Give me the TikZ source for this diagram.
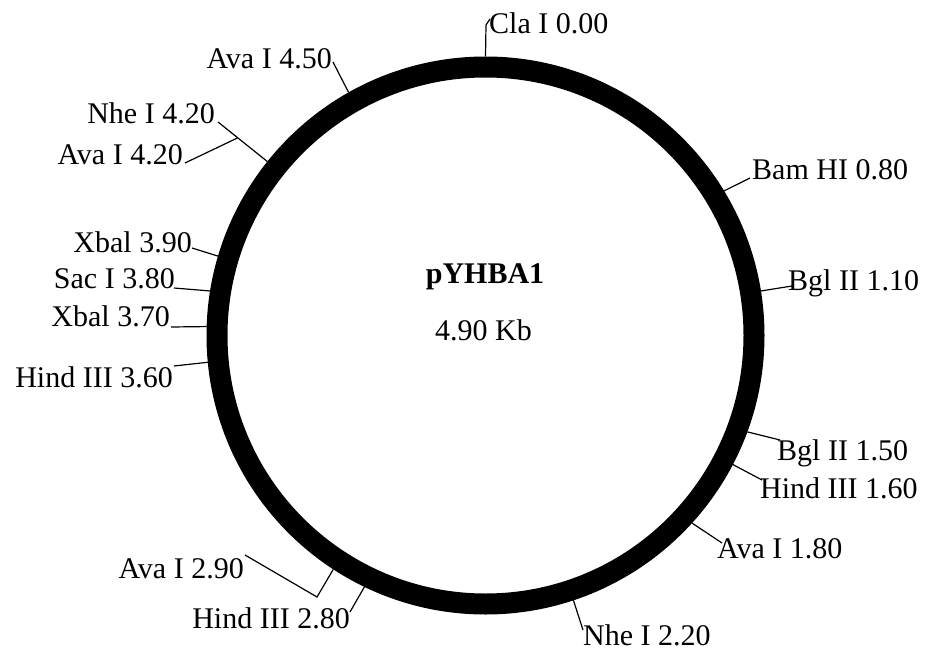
\documentclass[tikz,border=0pt]{standalone}
\usepackage{fontspec}
\setmainfont{Liberation Serif}
\usetikzlibrary{calc}
\begin{document}
\begin{tikzpicture}[x=1pt,y=-1pt,
  lbl/.style={inner sep=0pt,font=\fontsize{30}{36}\selectfont},
  leader/.style={line width=1.2pt,line join=miter}]
\useasboundingbox (0,0) rectangle (930,653);
% ring
\draw[line width=21pt] (485.5,335.5) circle[radius=268.5pt];
% site points on the outer edge of the ring
\foreach \n/\p in {cla/0.00,bam/0.80,bglA/1.10,bglB/1.50,hindA/1.60,avaA/1.80,nheA/2.20,hindB/2.80,avaB/2.90,hindC/3.60,xbaA/3.70,sac/3.80,xbaB/3.90,nheB/4.20,avaC/4.50}
  \coordinate (s-\n) at ({485.5+279*sin(\p*360/4.9)},{335.5-279*cos(\p*360/4.9)});
% centre labels
\node[lbl,font=\fontsize{30}{36}\selectfont\bfseries,anchor=base] (name) at (485,283) {pYHBA1};
\node[lbl,anchor=base] (size) at (483.5,340) {4.90 Kb};
% site labels
\node[lbl,anchor=base west] (l-cla) at (489,33) {Cla I 0.00};
\node[lbl,anchor=base west] (l-bam) at (752,179) {Bam HI 0.80};
\node[lbl,anchor=base west] (l-bglA) at (788,290) {Bgl II 1.10};
\node[lbl,anchor=base west] (l-bglB) at (777,460) {Bgl II 1.50};
\node[lbl,anchor=base west] (l-hindA) at (760,498) {Hind III 1.60};
\node[lbl,anchor=base west] (l-avaA) at (717,558) {Ava I 1.80};
\node[lbl,anchor=base west] (l-nheA) at (583,645) {Nhe I 2.20};
\node[lbl,anchor=base east] (l-hindB) at (350,628) {Hind III 2.80};
\node[lbl,anchor=base east] (l-avaB) at (244,578) {Ava I 2.90};
\node[lbl,anchor=base east] (l-hindC) at (173,387) {Hind III 3.60};
\node[lbl,anchor=base east] (l-xbaA) at (170,326) {Xbal 3.70};
\node[lbl,anchor=base east] (l-sac) at (175,288) {Sac I 3.80};
\node[lbl,anchor=base east] (l-xbaB) at (192,252) {Xbal 3.90};
\node[lbl,anchor=base east] (l-nheB) at (215,123) {Nhe I 4.20};
\node[lbl,anchor=base east] (l-avaD) at (183,164) {Ava I 4.20};
\node[lbl,anchor=base east] (l-avaC) at (332,68) {Ava I 4.50};
% leader end points
\coordinate (e-cla) at (490,19);
\coordinate (k-cla) at (486,25);
\coordinate (e-bam) at (750,178);
\coordinate (e-bglA) at (792,286);
\coordinate (e-bglB) at (780,440);
\coordinate (e-hindA) at (762,480);
\coordinate (e-avaA) at (722,543);
\coordinate (e-nheA) at (583,630);
\coordinate (e-hindB) at (350,612);
\coordinate (k-avaB) at (317,597);
\coordinate (e-avaB) at (245,555);
\coordinate (e-hindC) at (174,366);
\coordinate (e-xbaA) at (171,327);
\coordinate (e-sac) at (174,288);
\coordinate (e-xbaB) at (192,248);
\coordinate (e-nheB) at (218,122);
\coordinate (e-avaD) at (185,163);
\coordinate (e-avaC) at (333,62);
% leaders
\draw[leader] (s-cla) -- (k-cla) -- (e-cla);
\draw[leader] (s-bam) -- (e-bam);
\draw[leader] (s-bglA) -- (e-bglA);
\draw[leader] (s-bglB) -- (e-bglB);
\draw[leader] (s-hindA) -- (e-hindA);
\draw[leader] (s-avaA) -- (e-avaA);
\draw[leader] (s-nheA) -- (e-nheA);
\draw[leader] (s-hindB) -- (e-hindB);
\draw[leader] (s-avaB) -- (k-avaB) -- (e-avaB);
\draw[leader] (s-hindC) -- (e-hindC);
\draw[leader] (s-xbaA) -- (e-xbaA);
\draw[leader] (s-sac) -- (e-sac);
\draw[leader] (s-xbaB) -- (e-xbaB);
\draw[leader] (s-nheB) -- (e-nheB);
\draw[leader] ($(s-nheB)!0.6!(e-nheB)$) -- (e-avaD);
\draw[leader] (s-avaC) -- (e-avaC);
\end{tikzpicture}
\end{document}
